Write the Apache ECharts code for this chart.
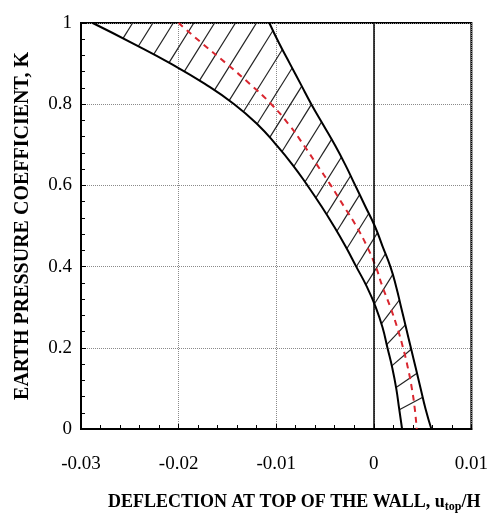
<!DOCTYPE html>
<html><head><meta charset="utf-8">
<script src="https://cdn.jsdelivr.net/npm/echarts@6/dist/echarts.min.js"></script>
<style>html,body{margin:0;padding:0;background:#fff}#c{width:491px;height:519px}</style>
</head><body><div id="c"></div>
<script>
// Earth pressure coefficient K levels (shared by all curves)
const kLevels = [1.00,0.95,0.90,0.85,0.80,0.75,0.70,0.65,0.60,0.55,0.50,0.45,0.40,0.35,0.30,0.25,0.20,0.15,0.10,0.05,0.00];
// Lower / left boundary of the band (deflection u_top/H)
const innerX = [-0.0288,-0.0247,-0.0208,-0.0173,-0.0143,-0.0119,-0.0100,-0.0083,-0.0068,-0.0054,-0.0041,-0.0029,-0.0018,-0.0007,0.0002,0.0009,0.0014,0.0019,0.0023,0.0026,0.0029];
// Upper / right boundary of the band
const outerX = [-0.0107,-0.0097,-0.0086,-0.0075,-0.0064,-0.0052,-0.0040,-0.0029,-0.0019,-0.0009,0.0001,0.0009,0.0017,0.0023,0.0028,0.0033,0.0038,0.0043,0.0048,0.0053,0.0059];
// Red dashed middle curve
const meanX = [-0.0200,-0.0176,-0.0151,-0.0127,-0.0105,-0.0087,-0.0072,-0.0058,-0.0044,-0.0031,-0.0018,-0.0007,0.0002,0.0009,0.0017,0.0024,0.0030,0.0035,0.0039,0.0042,0.0044];
// Tick labels
const xTicks = [-0.03,-0.02,-0.01,0,0.01];
const yTicks = [0,0.2,0.4,0.6,0.8,1];

const FONT = "'Liberation Serif','Times New Roman',serif";
const pts = xs => kLevels.map((k,i)=>[xs[i],k]);

function hatchItem(params, api){
  const inn = kLevels.map((k,i)=>api.coord([innerX[i],k]));
  const out = kLevels.map((k,i)=>api.coord([outerX[i],k]));
  const topY = api.coord([0, yTicks[yTicks.length-1]])[1];
  const children = [];
  let dist = 34, acc = 0;
  for (let i=0;i<inn.length-1;i++){
    const p=inn[i], q=inn[i+1];
    const L = Math.hypot(q[0]-p[0], q[1]-p[1]);
    while (dist <= acc + L){
      const t=(dist-acc)/L;
      const sx=p[0]+t*(q[0]-p[0]), sy=p[1]+t*(q[1]-p[1]);
      const k=kLevels[i]+t*(kLevels[i+1]-kLevels[i]);
      const a=Math.min(58, 22+120*k)*Math.PI/180;
      const dx=Math.cos(a), dy=-Math.sin(a);
      let best=(sy-topY)/Math.sin(a);
      for (let j=0;j<out.length-1;j++){
        const ax=out[j][0], ay=out[j][1], ex=out[j+1][0]-ax, ey=out[j+1][1]-ay;
        const den=dx*ey-dy*ex;
        if (Math.abs(den)<1e-9) continue;
        const tt=((ax-sx)*ey-(ay-sy)*ex)/den;
        const uu=((ax-sx)*dy-(ay-sy)*dx)/den;
        if (tt>0 && uu>=0 && uu<=1 && tt<best) best=tt;
      }
      children.push({type:'line', shape:{x1:sx,y1:sy,x2:sx+dx*best,y2:sy+dy*best}, style:{stroke:'#222', lineWidth:1.2}});
      dist += 17 + 6*(1-k);
    }
    acc += L;
  }
  return {type:'group', children};
}

const chart = echarts.init(document.getElementById('c'), null, {renderer:'canvas'});
chart.setOption({
  animation:false,
  backgroundColor:'#fff',
  grid:{left:81, right:14, top:23, bottom:90, show:true, borderColor:'#000', borderWidth:2, backgroundColor:'transparent'},
  xAxis:{
    type:'value', min:xTicks[0], max:xTicks[xTicks.length-1], interval:0.01,
    axisLine:{show:true, onZero:false, lineStyle:{color:'#000', width:2}},
    axisTick:{show:true, inside:true, length:5, lineStyle:{color:'#000'}},
    minorTick:{show:true, splitNumber:5, length:4, lineStyle:{color:'#000'}},
    splitLine:{show:true, lineStyle:{color:'#8a8a8a', type:'dotted', width:1}},
    axisLabel:{color:'#000', fontSize:19, fontFamily:FONT, margin:26, formatter:v=>String(+v.toFixed(2))},
    name:'{a|DEFLECTION AT TOP OF THE WALL, u}{s|top}{a|/H}',
    nameLocation:'middle', nameGap:62,
    nameTextStyle:{padding:[0,0,0,36], rich:{
      a:{fontSize:18, fontWeight:'bold', fontFamily:FONT, color:'#000', lineHeight:22},
      s:{fontSize:12, fontWeight:'bold', fontFamily:FONT, color:'#000', lineHeight:12, verticalAlign:'bottom'}
    }}
  },
  yAxis:{
    type:'value', min:yTicks[0], max:yTicks[yTicks.length-1], interval:0.2,
    axisLine:{show:true, onZero:false, lineStyle:{color:'#000', width:2}},
    axisTick:{show:true, inside:true, length:5, lineStyle:{color:'#000'}},
    minorTick:{show:true, splitNumber:5, length:4, lineStyle:{color:'#000'}},
    splitLine:{show:true, lineStyle:{color:'#8a8a8a', type:'dotted', width:1}},
    axisLabel:{color:'#000', fontSize:19, fontFamily:FONT, margin:9},
    name:'EARTH PRESSURE COEFFICIENT, K',
    nameLocation:'middle', nameRotate:90, nameGap:48,
    nameTextStyle:{fontSize:20, fontWeight:'bold', fontFamily:FONT, color:'#000'}
  },
  series:[
    {type:'custom', renderItem:hatchItem, data:[[0,0]], silent:true, z:1, clip:true},
    {type:'line', data:pts(innerX), symbol:'none', smooth:0.5, z:3,
     lineStyle:{color:'#000', width:2},
     markLine:{silent:true, symbol:'none', label:{show:false}, lineStyle:{color:'#000', width:1.5, type:'solid'}, data:[{xAxis:0}]}},
    {type:'line', data:pts(outerX), symbol:'none', smooth:0.5, z:3, lineStyle:{color:'#000', width:2}},
    {type:'line', data:pts(meanX), symbol:'none', smooth:0.5, z:4, lineStyle:{color:'#d9262f', width:2, type:[6,5]}}
  ]
});
</script></body></html>
